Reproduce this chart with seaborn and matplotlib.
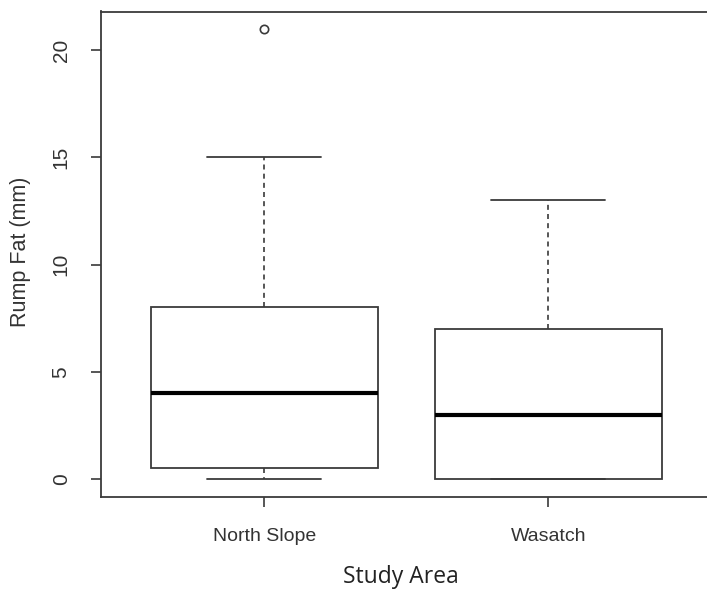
import numpy as np
import pandas as pd
import seaborn as sns
import matplotlib
matplotlib.use("Agg")
import matplotlib.pyplot as plt

# Raw observations chosen so the box statistics match the reference
north_slope = [0, 0.5, 0.5, 2, 4, 6, 8, 15, 21]
wasatch = [0, 0, 0, 1, 3, 5, 7, 10, 13]
categories = ["North Slope", "Wasatch"]
y_ticks = [0, 5, 10, 15, 20]

df = pd.DataFrame({
    "area": [categories[0]] * len(north_slope) + [categories[1]] * len(wasatch),
    "fat": north_slope + wasatch,
})

sns.set_style("white")
plt.rcParams['font.family'] = ['Liberation Sans', 'DejaVu Sans']

fig = plt.figure(figsize=(7.07, 5.89), dpi=100)
ax = fig.add_axes([100.5 / 707, (589 - 497) / 589, (713 - 100.5) / 707, (497 - 11.5) / 589])

lc = "#3a3a3a"
sns.boxplot(
    data=df, x="area", y="fat", order=categories, ax=ax,
    width=0.8, color="white", linecolor=lc, linewidth=1.3, whis=1.5,
    boxprops=dict(facecolor="white", edgecolor=lc, linewidth=1.3),
    whiskerprops=dict(color=lc, linestyle=(0, (3, 2.5)), linewidth=1.2),
    capprops=dict(color=lc, linewidth=1.3),
    medianprops=dict(color="black", linewidth=3),
    flierprops=dict(marker="o", markerfacecolor="none", markeredgecolor=lc,
                    markersize=6, markeredgewidth=1.2),
)

ax.set_xlim(-0.576, 1.58)
ax.set_ylim(-0.84, 21.8)
ax.set_yticks(y_ticks)
ax.set_yticklabels([str(v) for v in y_ticks], rotation=90, va="center", fontsize=15, color="#333")
ax.set_xticks([0, 1])
ax.set_xticklabels(categories, fontsize=14, color="#333")
ax.tick_params(axis="both", direction="out", length=7.5, width=1.2, color=lc,
               bottom=True, left=True)
ax.tick_params(axis="x", pad=14.5)
ax.tick_params(axis="y", pad=14)
ax.set_xlabel("")
ax.set_ylabel("Rump Fat (mm)", fontsize=15.5, color="#333")
ax.yaxis.set_label_coords((21 - 100.5) / 612.5, 0.505)
ax.yaxis.label.set_va("center")

for s in ax.spines.values():
    s.set_visible(True)
    s.set_color(lc)
    s.set_linewidth(1.3)

fig.text(401 / 707, 1 - 577 / 589, "Study Area", fontsize=16.5, family=["Open Sans", "DejaVu Sans"],
         ha="center", va="center", color="#222")

fig.savefig("out.png", dpi=100)
